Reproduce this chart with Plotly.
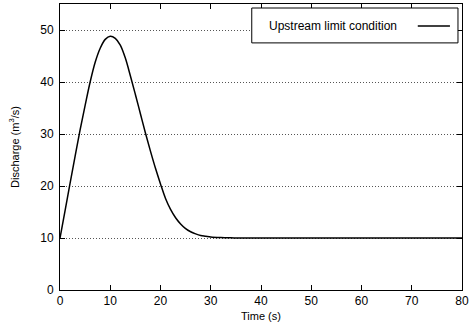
import plotly.graph_objects as go

# discharge hydrograph
time_s = [0, 1, 2, 3, 4, 5, 6, 7, 8, 9, 10, 11, 12, 13, 14, 15, 16, 17, 18, 19,
          20, 21, 22, 23, 24, 25, 26, 27, 28, 29, 30, 32, 34, 36, 40, 50, 60, 70, 80]
discharge = [10, 15.2, 20.5, 25.7, 30.8, 35.5, 40, 43.8, 46.5, 48.2, 48.8, 48.4, 47.1,
             44.6, 41.2, 37.6, 33.9, 30.2, 26.7, 23.4, 20.4, 17.6, 15.5, 13.9, 12.7,
             11.8, 11.2, 10.8, 10.5, 10.35, 10.2, 10.08, 10.03, 10.01, 10, 10, 10, 10, 10]
x_ticks = [0, 10, 20, 30, 40, 50, 60, 70, 80]
y_ticks = [0, 10, 20, 30, 40, 50]
legend_label = "Upstream limit condition"

font = "Liberation Sans, Arial, sans-serif"

fig = go.Figure()
fig.add_trace(go.Scatter(x=time_s, y=discharge, mode="lines",
                         line=dict(color="black", width=1.5, shape="spline", smoothing=1.0),
                         name=legend_label, showlegend=False))

# gnuplot-like key box: text on the left, line sample on the right
fig.add_shape(type="rect", xref="paper", yref="paper", x0=0.477, x1=0.990, y0=0.864, y1=0.986,
              line=dict(color="black", width=1), fillcolor="white", layer="above")
fig.add_shape(type="line", xref="paper", yref="paper", x0=0.890, x1=0.970, y0=0.923, y1=0.923,
              line=dict(color="black", width=1.5), layer="above")
fig.add_annotation(text=legend_label, xref="paper", yref="paper", x=0.680, y=0.923,
                   showarrow=False, xanchor="center", yanchor="middle",
                   font=dict(family=font, size=12, color="black"))

fig.update_xaxes(range=[0, 80], tickvals=x_ticks, ticks="inside", ticklen=5, tickcolor="black",
                 showline=True, linecolor="black", linewidth=1, mirror="ticks",
                 showgrid=False, zeroline=False, automargin=False,
                 title=dict(text="Time (s)", font=dict(family=font, size=11), standoff=4),
                 tickfont=dict(family=font, size=12, color="black"))
fig.update_yaxes(range=[0, 55], tickvals=y_ticks, ticks="inside", ticklen=5, tickcolor="black",
                 showline=True, linecolor="black", linewidth=1, mirror="ticks",
                 showgrid=True, gridcolor="#555", gridwidth=1, griddash="1px,2px", zeroline=False,
                 automargin=False, ticklabelstandoff=3,
                 title=dict(text="Discharge (m<sup>3</sup>/s)", font=dict(family=font, size=11), standoff=18),
                 tickfont=dict(family=font, size=12, color="black"))

fig.update_layout(width=471, height=331, margin=dict(l=60, r=9, t=4, b=41),
                  plot_bgcolor="white", paper_bgcolor="white",
                  font=dict(family=font, color="black"))

fig.write_html("out.html", config={"displayModeBar": False},
               post_script="document.body.style.margin='0';")
